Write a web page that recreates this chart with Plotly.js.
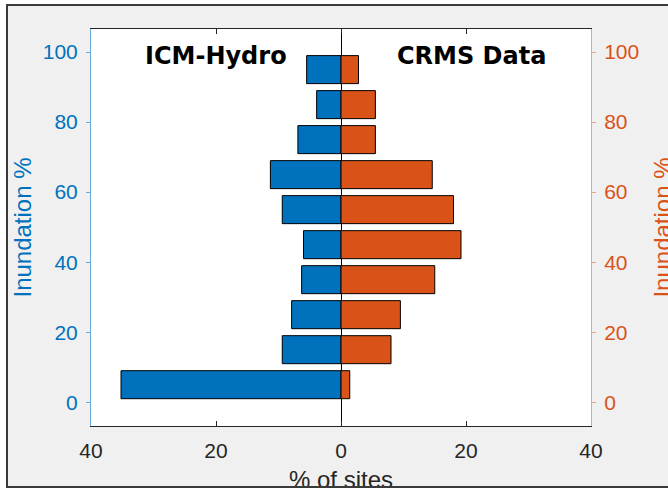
<!DOCTYPE html>
<html>
<head>
<meta charset="utf-8">
<script src="https://cdn.plot.ly/plotly-3.0.1.min.js"></script>
<style>
  html, body { margin: 0; padding: 0; background: #ffffff; overflow: hidden; width: 668px; height: 489px; }
  #bg { position: absolute; left: 6px; top: 4px; width: 700px; height: 484px; background: #f0f0f0; z-index: 0; }
  #chart { position: absolute; left: 0; top: 0; width: 684px; height: 500px; z-index: 1; }
  #frame { position: absolute; left: 6px; top: 4px; width: 700px; height: 480px; border: 2px solid #3a3a3a; z-index: 2; pointer-events: none; }
  #strip { position: absolute; left: 0; top: 488px; width: 700px; height: 20px; background: #ffffff; z-index: 3; }
</style>
</head>
<body>
<div id="bg"></div>
<div id="chart"></div>
<div id="frame"></div>
<div id="strip"></div>
<script>
// Inundation bin centres (%)
const inundationBins = [5, 15, 25, 35, 45, 55, 65, 75, 85, 95];
// % of sites per bin, ICM-Hydro (plotted to the left)
const icmHydro = [35.2, 9.4, 7.9, 6.3, 6.0, 9.4, 11.3, 6.9, 3.9, 5.5];
// % of sites per bin, CRMS Data (plotted to the right)
const crmsData = [1.4, 8.0, 9.5, 15.0, 19.2, 18.0, 14.6, 5.5, 5.5, 2.8];
// x-axis tick labels
const xTickVals = [-40, -20, 0, 20, 40];
const xTickText = ['40', '20', '0', '20', '40'];
const yTickVals = [0, 20, 40, 60, 80, 100];

const BLUE = '#0072BD';
const ORANGE = '#D95319';
const FONT = 'Liberation Sans, Arial, Helvetica, sans-serif';

const traces = [
  {
    type: 'bar', orientation: 'h', name: 'ICM-Hydro',
    y: inundationBins, x: icmHydro.map(v => -v),
    width: 8, yaxis: 'y',
    marker: { color: BLUE, line: { color: '#000000', width: 1 } },
    hoverinfo: 'skip'
  },
  {
    type: 'bar', orientation: 'h', name: 'CRMS Data',
    y: inundationBins, x: crmsData,
    width: 8, yaxis: 'y2',
    marker: { color: ORANGE, line: { color: '#000000', width: 1 } },
    hoverinfo: 'skip'
  }
];

const yRange = [-6.8, 106.6];

const layout = {
  width: 684, height: 500,
  margin: { l: 91, r: 93, t: 29, b: 74, pad: 0 },
  paper_bgcolor: 'rgba(0,0,0,0)',
  plot_bgcolor: '#ffffff',
  showlegend: false,
  barmode: 'overlay',
  font: { family: FONT, size: 21, color: '#262626' },
  xaxis: {
    range: [-40, 40],
    tickvals: xTickVals, ticktext: xTickText,
    ticks: 'inside', ticklen: 5, tickcolor: '#262626', tickwidth: 1,
    showline: true, linecolor: '#262626', linewidth: 1, mirror: 'ticks',
    showgrid: false,
    zeroline: true, zerolinecolor: '#000000', zerolinewidth: 1,
    tickfont: { family: FONT, size: 21, color: '#262626' },
    ticklabelstandoff: 6,
    automargin: false,
    title: { text: '% of sites', font: { family: FONT, size: 24, color: '#262626' }, standoff: 9 }
  },
  yaxis: {
    range: yRange,
    tickvals: yTickVals,
    ticks: 'outside', ticklen: 4, tickcolor: '#6aaad8', tickwidth: 1,
    showline: true, linecolor: '#6aaad8', linewidth: 1,
    showgrid: false, zeroline: false,
    tickfont: { family: FONT, size: 21, color: BLUE },
    ticklabelstandoff: 4,
    automargin: false,
    title: { text: 'Inundation %', font: { family: FONT, size: 24, color: BLUE }, standoff: 4 }
  },
  yaxis2: {
    range: yRange, overlaying: 'y', side: 'right',
    tickvals: yTickVals,
    ticks: 'outside', ticklen: 4, tickcolor: '#eba283', tickwidth: 1,
    showline: true, linecolor: '#eba283', linewidth: 1,
    showgrid: false, zeroline: false,
    tickfont: { family: FONT, size: 21, color: ORANGE },
    ticklabelstandoff: 4,
    automargin: false,
    title: { text: 'Inundation %', font: { family: FONT, size: 24, color: ORANGE }, standoff: 15 }
  },
  annotations: [
    { text: 'ICM-Hydro', x: -20, y: 99, xref: 'x', yref: 'y', showarrow: false,
      xanchor: 'center', yanchor: 'middle',
      font: { family: 'DejaVu Sans, sans-serif', size: 24, color: '#000000', weight: 'bold' } },
    { text: 'CRMS Data', x: 20.8, y: 99, xref: 'x', yref: 'y', showarrow: false,
      xanchor: 'center', yanchor: 'middle',
      font: { family: 'DejaVu Sans, sans-serif', size: 24, color: '#000000', weight: 'bold' } }
  ]
};

Plotly.newPlot('chart', traces, layout, { displayModeBar: false, staticPlot: true });
</script>
</body>
</html>
